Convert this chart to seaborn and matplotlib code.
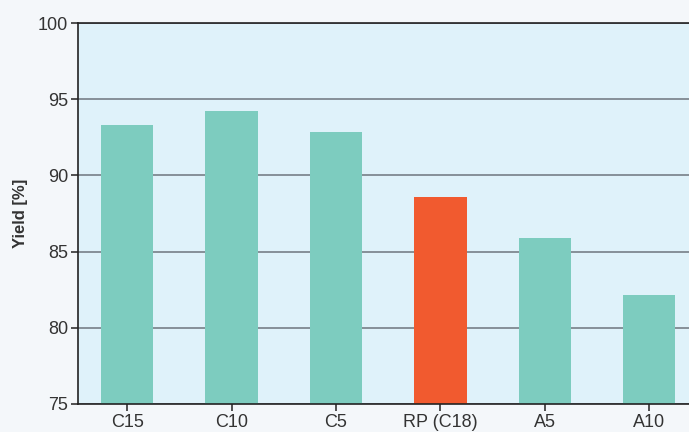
import numpy as np
import pandas as pd
import matplotlib.pyplot as plt
import seaborn as sns

# column names and yields
columns = ['C15', 'C10', 'C5', 'RP (C18)', 'A5', 'A10']
yields = [93.3, 94.2, 92.85, 88.6, 85.9, 82.15]
kind = ['new', 'new', 'new', 'ref', 'new', 'new']

df = pd.DataFrame({'column': columns, 'yield': yields, 'kind': kind})

sns.set_style('white')
plt.rcParams['font.family'] = ['Liberation Sans', 'DejaVu Sans']

fig = plt.figure(figsize=(6.89, 4.32), dpi=100, facecolor='#f4f7fa')
ax = fig.add_axes([78 / 689, 1 - 404 / 432, 1 - 78 / 689, 381 / 432])
ax.set_facecolor('#dff2fa')

sns.barplot(x='column', y='yield', hue='kind', data=df, ax=ax,
            palette={'new': '#7dccbf', 'ref': '#f15a2f'},
            width=0.5, dodge=False, legend=False, saturation=1,
            linewidth=0, edgecolor='none')

ax.set_ylim(75, 100)
ax.set_yticks(np.arange(75, 101, 5))
ax.set_xlim(-0.47, 5.38)
ax.set_axisbelow(True)
ax.yaxis.grid(True, color='#7f8890', linewidth=1.3)
ax.set_xlabel('')
ax.set_ylabel('Yield [%]', fontsize=12, fontweight='bold', color='#333333',
              labelpad=7)

ax.spines['right'].set_visible(False)
for s in ['left', 'bottom', 'top']:
    ax.spines[s].set_color('#222222')
    ax.spines[s].set_linewidth(1.2)

ax.tick_params(axis='both', direction='out', length=5, width=1.2,
               color='#333333', labelsize=13, labelcolor='#333333',
               left=True, bottom=True, pad=2)

plt.savefig('out.png', dpi=100, facecolor=fig.get_facecolor())
